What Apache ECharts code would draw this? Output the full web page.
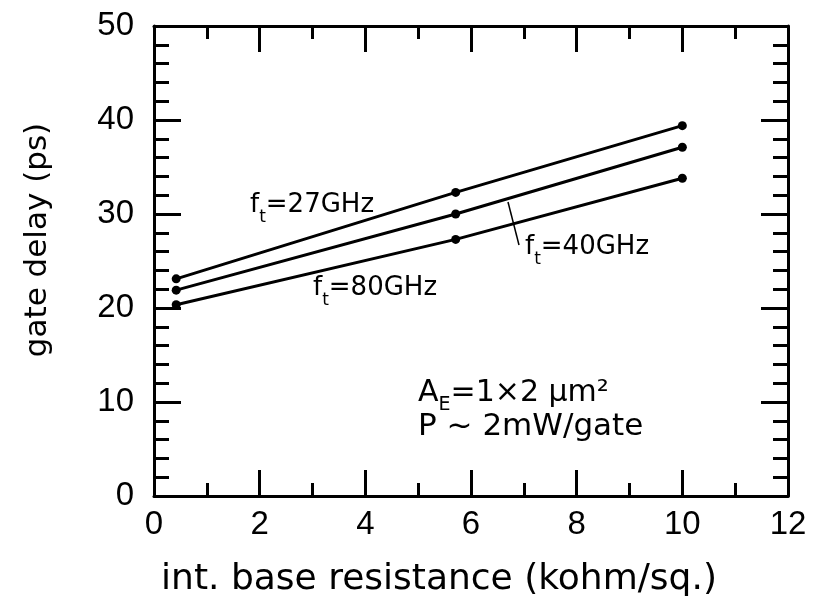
<!DOCTYPE html>
<html><head><meta charset="utf-8">
<script src="https://cdn.jsdelivr.net/npm/echarts@6/dist/echarts.min.js"></script>
<style>html,body{margin:0;padding:0;background:#fff}#c{width:815px;height:607px}</style>
</head><body><div id="c"></div>
<script>
const resistance = [0.42, 5.71, 10.0];
const delay27 = [23.1, 32.3, 39.4];
const delay40 = [21.9, 30.0, 37.1];
const delay80 = [20.35, 27.3, 33.8];
const xTicks = [0, 2, 4, 6, 8, 10, 12];
const yTicks = [0, 10, 20, 30, 40, 50];

const FONT = 'DejaVu Sans';
const NUMFONT = 'Liberation Sans';
const chart = echarts.init(document.getElementById('c'));
function mk(arr){ return resistance.map((x,i)=>[x, arr[i]]); }
const lineStyle = {color:'#000', width:3};
function series(name, arr){
  return {name, type:'line', data: mk(arr), symbol:'circle', symbolSize:9,
    itemStyle:{color:'#000'}, lineStyle, animation:false, xAxisIndex:0, yAxisIndex:0};
}
const axisLine = {show:true, onZero:false, lineStyle:{color:'#000', width:3}};
const tickX = {inside:true, length:26, lineStyle:{width:3,color:'#000'}};
const minorX = {show:true, splitNumber:2, length:13, lineStyle:{width:3,color:'#000'}};
const tickY = {inside:true, length:27, lineStyle:{width:3,color:'#000'}};
const minorY = {show:true, splitNumber:5, length:15, lineStyle:{width:3,color:'#000'}};
const rich = {
  m:{fontFamily:FONT, fontSize:26, color:'#000', lineHeight:30},
  s:{fontFamily:FONT, fontSize:17, color:'#000', lineHeight:42, verticalAlign:'bottom'}
};
const rich2 = {
  m:{fontFamily:FONT, fontSize:30, color:'#000', lineHeight:32},
  s:{fontFamily:FONT, fontSize:19, color:'#000', lineHeight:44, verticalAlign:'bottom'}
};
function ftLabel(x, y, v){
  return {type:'text', x, y, style:{text:'{m|f}{s|t}{m|='+v+'}', rich, align:'left', verticalAlign:'middle'}};
}
chart.setOption({
  animation:false,
  grid:{left:154, right:27, top:26, bottom:111},
  xAxis:[
    {type:'value', min:0, max:12, interval:2, position:'bottom', axisLine, splitLine:{show:false},
      axisTick:tickX, minorTick:minorX,
      axisLabel:{fontFamily:NUMFONT, fontSize:33, color:'#000', margin:12,
        formatter:v=> xTicks.includes(v)? String(v):''}},
    {type:'value', min:0, max:12, interval:2, position:'top', axisLine, splitLine:{show:false},
      axisTick:tickX, minorTick:minorX, axisLabel:{show:false}}
  ],
  yAxis:[
    {type:'value', min:0, max:50, interval:10, position:'left', axisLine, splitLine:{show:false},
      axisTick:tickY, minorTick:minorY,
      axisLabel:{fontFamily:NUMFONT, fontSize:33, color:'#000', margin:20,
        formatter:v=> yTicks.includes(v)? String(v):''}},
    {type:'value', min:0, max:50, interval:10, position:'right', axisLine, splitLine:{show:false},
      axisTick:tickY, minorTick:minorY, axisLabel:{show:false}}
  ],
  series:[series('ft=27GHz', delay27), series('ft=40GHz', delay40), series('ft=80GHz', delay80)],
  graphic:[
    {type:'text', x:439, y:580, style:{text:'int. base resistance (kohm/sq.)', fontFamily:FONT, fontSize:36, fill:'#000', align:'center', verticalAlign:'middle'}},
    {type:'text', x:38, y:240, rotation:Math.PI/2, style:{text:'gate delay (ps)', fontFamily:FONT, fontSize:31, fill:'#000', align:'center', verticalAlign:'middle'}},
    ftLabel(250, 205, '27GHz'),
    ftLabel(313, 288, '80GHz'),
    ftLabel(525, 247, '40GHz'),
    {type:'line', shape:{x1:508, y1:202, x2:519, y2:245}, style:{stroke:'#000', lineWidth:1.5}},
    {type:'text', x:418, y:393, style:{text:'{m|A}{s|E}{m|=1×2 μm²}', rich:rich2, align:'left', verticalAlign:'middle'}},
    {type:'text', x:418, y:427, style:{text:'P ~ 2mW/gate', fontFamily:FONT, fontSize:31, fill:'#000', align:'left', verticalAlign:'middle'}}
  ]
});
</script></body></html>
